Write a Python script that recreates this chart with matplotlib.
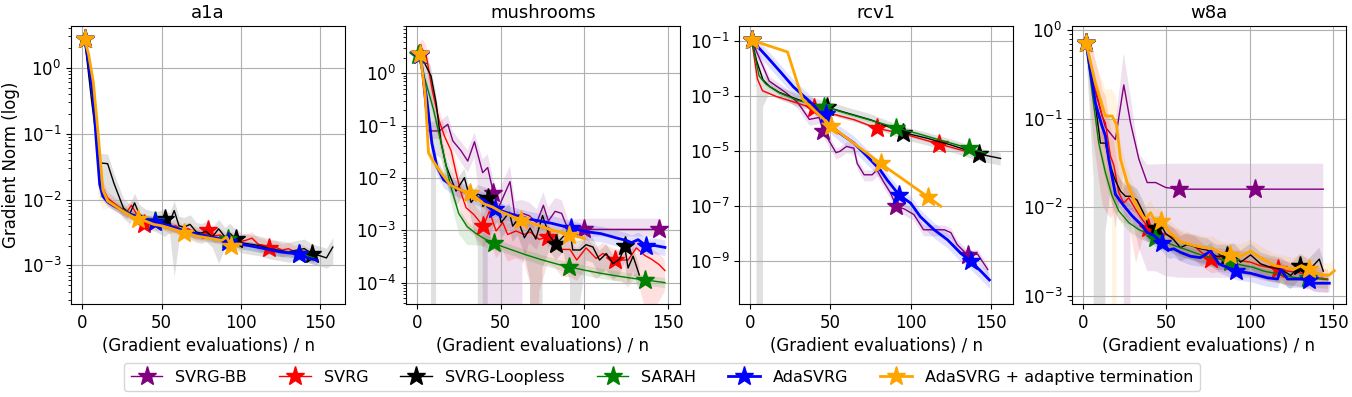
import numpy as np
import matplotlib
matplotlib.use("Agg")
import matplotlib.pyplot as plt
from matplotlib.lines import Line2D

methods = ["SVRG-BB", "SVRG", "SVRG-Loopless", "SARAH", "AdaSVRG",
           "AdaSVRG + adaptive termination"]
colors = ["purple", "red", "black", "green", "blue", "orange"]
widths = [1, 1, 1, 1, 2, 2]
titles = ["a1a", "mushrooms", "rcv1", "w8a"]
xticks = [0, 50, 100, 150]

# ---------------- a1a ----------------
a1a_svrg_x = [1.5, 4, 7, 10, 13, 16, 20, 24, 28, 31, 35, 39, 43, 47, 51, 55, 59, 63, 67, 71, 75, 79, 83, 87, 91,
              95, 99, 103, 107, 111, 115, 118, 122, 126, 130, 134, 138, 142, 146]
a1a_svrg_y = [2.7, 1.3, 0.4, 0.06, 0.015, 0.0105, 0.0088, 0.0074, 0.0064, 0.0082, 0.0056, 0.0043, 0.0047, 0.0042,
              0.0044, 0.0038, 0.0040, 0.0034, 0.0036, 0.0031, 0.0030, 0.0034, 0.0028, 0.0029, 0.0025, 0.0026,
              0.0023, 0.0024, 0.0026, 0.0021, 0.0020, 0.00187, 0.0019, 0.0017, 0.0018, 0.0016, 0.0017, 0.0015, 0.0014]
a1a_svrg_mk = [1.5, 39, 79, 118]

a1a_loop_x = [1.5, 6, 11, 16, 20, 26, 30, 33, 36, 40, 46, 52, 55, 58, 61, 64, 68, 72, 75, 78, 82, 86, 90, 93, 97,
              101, 106, 112, 118, 124, 130, 135, 140, 145, 150, 154, 158]
a1a_loop_y = [2.7, 0.3, 0.036, 0.035, 0.0176, 0.0074, 0.0061, 0.0089, 0.006, 0.0051, 0.0047, 0.0050, 0.0045,
              0.0068, 0.0040, 0.0038, 0.0042, 0.0032, 0.0031, 0.0033, 0.0027, 0.0036, 0.0027, 0.0031, 0.0025,
              0.0022, 0.0021, 0.0020, 0.0018, 0.0017, 0.0016, 0.0017, 0.0018, 0.0015, 0.0014, 0.0013, 0.0019]
a1a_loop_mk = [1.5, 52, 97, 145]
a1a_loop_dn = [0.05, 0.3, 0.7, 0.7, 0.5, 0.3, 0.3, 0.35, 0.3, 0.3, 0.3, 0.45, 0.3, 0.94, 0.4, 0.3, 0.4, 0.3, 0.3,
               0.3, 0.3, 0.7, 0.3, 0.4, 0.3, 0.3, 0.3, 0.3, 0.3, 0.3, 0.3, 0.3, 0.35, 0.3, 0.3, 0.3, 0.45]

a1a_sarah_x = [1.5, 4, 7, 9, 11, 13, 16, 20, 25, 30, 35, 40, 46, 50, 55, 60, 65, 70, 75, 80, 85, 92, 96, 100, 105,
               110, 115, 120, 125, 130, 137, 142, 146]
a1a_sarah_y = [2.7, 1.4, 0.45, 0.1, 0.03, 0.013, 0.0098, 0.0083, 0.0072, 0.0062, 0.0056, 0.0051, 0.0047, 0.0044,
               0.0040, 0.0037, 0.0034, 0.0031, 0.0030, 0.0028, 0.0026, 0.0025, 0.0023, 0.0021, 0.0020, 0.0019,
               0.0018, 0.0017, 0.0016, 0.0016, 0.0015, 0.0014, 0.0013]
a1a_sarah_mk = [1.5, 46, 92, 137]

a1a_ada_x = [1.5, 4, 7, 9, 11, 13, 16, 20, 25, 30, 35, 40, 46, 50, 55, 60, 65, 70, 75, 80, 85, 92, 96, 100, 105,
             110, 115, 120, 125, 130, 137, 142, 148]
a1a_ada_y = [2.7, 1.2, 0.33, 0.07, 0.017, 0.0112, 0.0092, 0.0080, 0.0069, 0.0060, 0.0055, 0.0050, 0.0046, 0.0043,
             0.0040, 0.0036, 0.0033, 0.0031, 0.0029, 0.0027, 0.0026, 0.0023, 0.0023, 0.0021, 0.0020, 0.0019,
             0.0018, 0.0017, 0.0016, 0.00155, 0.0015, 0.0013, 0.0012]
a1a_ada_mk = [1.5, 46, 92, 137]

a1a_term_x = [1.5, 4, 7, 10, 13, 16, 20, 25, 30, 35, 40, 45, 50, 55, 60, 64, 68, 72, 76, 80, 84, 88, 91, 94, 97, 100]
a1a_term_y = [2.7, 1.6, 0.6, 0.1, 0.014, 0.0095, 0.0082, 0.0068, 0.0058, 0.0050, 0.0047, 0.0042, 0.0040, 0.0037,
              0.0034, 0.0031, 0.0030, 0.0028, 0.0027, 0.0026, 0.0025, 0.0024, 0.0027, 0.0020, 0.0021, 0.0021]
a1a_term_mk = [1.5, 35, 64, 94]
a1a_term_dn = [0.1, 0.3, 0.6, 0.95, 0.5, 0.2, 0.15, 0.15, 0.15, 0.15, 0.15, 0.15, 0.15, 0.15, 0.15, 0.15, 0.15,
               0.15, 0.15, 0.15, 0.15, 0.15, 0.15, 0.15, 0.15, 0.15]

# ---------------- mushrooms ----------------
mush_bb_x = [2, 6.6, 13.5, 18.5, 21.5, 26.4, 30.4, 34.4, 39.3, 42.3, 45.7, 48.5, 55.6, 58.6, 63, 67, 71.5, 75.5,
             78.5, 82.5, 86.4, 90.4, 100, 110, 120, 130, 144.6]
mush_bb_y = [2.3, 0.079, 0.079, 0.106, 0.051, 0.033, 0.021, 0.049, 0.0126, 0.0158, 0.0052, 0.0026, 0.0085, 0.0018,
             0.0021, 0.0019, 0.0014, 0.0030, 0.0015, 0.0023, 0.0021, 0.0010, 0.00104, 0.00104, 0.00104, 0.00104,
             0.00104]
mush_bb_mk = [2, 45.7, 100, 144.6]
mush_bb_up = [0.2, 0.5, 0.5, 0.5, 0.5, 0.5, 0.6, 0.5, 0.8, 0.8, 0.8, 1.0, 1.0, 1.0, 0.8, 0.8, 0.8, 0.8, 0.8, 0.8,
              0.8, 0.6, 0.6, 0.6, 0.6, 0.6, 0.6]
mush_bb_dn = [0.1, 0.3, 0.3, 0.3, 0.3, 0.4, 0.4, 0.5, 1.0, 1.0, 1.0, 1.0, 1.0, 1.0, 1.0, 0.7, 0.7, 0.7, 0.7, 0.7,
              0.5, 0.3, 0.27, 0.27, 0.27, 0.27, 0.27]

mush_svrg_x = [1.5, 3.5, 5.6, 9.5, 13.5, 16.5, 20.5, 23.4, 26.4, 29.4, 34, 39.7, 43.3, 47.3, 51.3, 54.2, 59.2, 64,
               67.5, 73, 78, 82.5, 86.4, 91.4, 95.4, 101, 107, 111, 118, 122, 126, 131, 136, 140, 144.6, 148]
mush_svrg_y = [2.3, 2.8, 2.2, 0.43, 0.12, 0.063, 0.033, 0.0126, 0.0052, 0.0027, 0.0020, 0.0012, 0.0023, 0.00097,
               0.0014, 0.00083, 0.00097, 0.00083, 0.00093, 0.00067, 0.00074, 0.00065, 0.00043, 0.00043, 0.00027,
               0.00046, 0.00029, 0.00036, 0.00027, 0.00027, 0.00027, 0.00046, 0.00033, 0.00028, 0.00022, 0.00017]
mush_svrg_mk = [1.5, 39.7, 78, 118]
mush_svrg_dn = [0.1, 0.4, 0.4, 0.5, 0.5, 0.5, 0.5, 0.6, 0.6, 0.6, 0.6, 0.6, 0.7, 0.7, 0.7, 0.7, 0.7, 0.7, 1.0, 1.0,
                0.7, 0.7, 0.7, 0.7, 0.6, 0.6, 0.6, 0.6, 0.6, 0.6, 0.7, 0.7, 1.0, 1.0, 0.8, 0.6]

mush_loop_x = [2, 8.5, 11.5, 14.5, 17.5, 23.4, 28.4, 32.4, 36.4, 42.3, 45.3, 48.3, 50.3, 55.2, 57.2, 60.2, 64.2,
               67.6, 71, 75, 79, 83, 87.4, 91.4, 93, 97.4, 101, 105, 109, 113, 117, 121, 124, 126, 129, 132.7]
mush_loop_y = [2.3, 0.89, 0.275, 0.047, 0.017, 0.0056, 0.0101, 0.0034, 0.0049, 0.0042, 0.0022, 0.0029, 0.0014,
               0.0022, 0.0012, 0.0016, 0.00072, 0.0011, 0.00068, 0.0019, 0.0008, 0.00054, 0.00076, 0.0010, 0.00042,
               0.00042, 0.00053, 0.00048, 0.00027, 0.00036, 0.00023, 0.00028, 0.00049, 0.00019, 0.00032, 0.00014]
mush_loop_mk = [2, 42.3, 83, 124]
mush_loop_dn = [0.1, 1.0, 1.0, 0.5, 0.5, 0.5, 0.5, 0.5, 1.0, 1.0, 0.5, 0.5, 0.5, 0.5, 0.5, 0.5, 0.5, 1.0, 1.0, 1.0,
                0.5, 0.5, 0.5, 1.0, 1.0, 1.0, 0.5, 0.5, 0.5, 0.5, 0.5, 0.5, 0.5, 0.5, 0.5, 0.5]

mush_sarah_x = [0.5, 5, 10, 15, 20, 25, 30, 35, 40, 46, 55, 65, 75, 85, 91, 100, 110, 120, 130, 136, 142, 148]
mush_sarah_y = [2.24, 0.75, 0.2, 0.04, 0.0074, 0.0021, 0.00118, 0.00088, 0.0007, 0.00056, 0.00044, 0.00034,
                0.00027, 0.00022, 0.0002, 0.000173, 0.00015, 0.000133, 0.000119, 0.000112, 0.000106, 0.0001]
mush_sarah_mk = [0.5, 46, 91, 136]
mush_sarah_dn = [0.1, 0.2, 0.3, 0.4, 0.5, 0.6, 0.55, 0.4, 0.3, 0.25, 0.2, 0.2, 0.2, 0.2, 0.2, 0.2, 0.2, 0.2, 0.2,
                 0.2, 0.2, 0.2]

mush_ada_x = [2, 6, 9, 12, 16, 22, 30, 40, 46.7, 55, 62, 70, 80, 92, 100, 110, 120, 125, 128, 132, 137, 142, 148]
mush_ada_y = [2.24, 0.31, 0.046, 0.0165, 0.0092, 0.0068, 0.0051, 0.0038, 0.0026, 0.0021, 0.0018, 0.00157, 0.00137,
              0.0011, 0.00095, 0.00086, 0.0007, 0.00064, 0.00058, 0.00066, 0.0005, 0.00051, 0.00047]
mush_ada_mk = [2, 46.7, 92, 137]

mush_term_x = [2, 5, 7, 10, 14, 20, 26, 32, 36, 40, 45, 50, 55, 62, 66, 70, 75, 80, 86, 91, 96, 100]
mush_term_y = [2.34, 0.41, 0.030, 0.0205, 0.0132, 0.0073, 0.0059, 0.0051, 0.0041, 0.0032, 0.0028, 0.00227,
               0.00196, 0.00157, 0.00146, 0.00132, 0.00117, 0.00101, 0.00092, 0.00081, 0.00076, 0.0007]
mush_term_mk = [2, 32, 62, 91]

# ---------------- rcv1 ----------------
rcv_bb_x = [1, 11.9, 22.3, 29.6, 36.9, 43, 45.6, 53.5, 56, 60, 64.6, 66.7, 71, 76, 79, 83, 87.5, 91, 96, 102, 108,
            114.6, 121, 125, 129, 135.4, 141.7, 148]
rcv_bb_y = [0.11, 0.0036, 0.00135, 6.0e-4, 1.45e-4, 1.7e-4, 5.5e-5, 8.9e-6, 1.0e-5, 1.5e-5, 1.3e-5, 3.6e-6, 1.4e-6,
            1.4e-6, 2.1e-6, 8e-7, 3e-7, 1.0e-7, 8e-8, 5e-8, 1.4e-8, 1.4e-8, 1.4e-8, 1.1e-8, 4e-9, 1.7e-9, 1.8e-9,
            5e-10]
rcv_bb_mk = [1, 45.6, 91, 135.4]

rcv_svrg_x = [1, 4.6, 7.7, 16, 28.5, 39.6, 55, 65, 78.75, 95, 105, 117.7, 130, 142]
rcv_svrg_y = [0.11, 0.0042, 0.0016, 0.001, 5.9e-4, 3.6e-4, 2.0e-4, 1.4e-4, 6.9e-5, 4.4e-5, 3.0e-5, 1.85e-5,
              1.17e-5, 7.4e-6]
rcv_svrg_mk = [1, 39.6, 78.75, 117.7]

rcv_loop_x = [1, 4, 8, 12, 18, 30, 40, 48, 60, 75, 95.4, 110, 125, 142.7, 156]
rcv_loop_y = [0.11, 0.02, 0.004, 0.0023, 0.0014, 7.5e-4, 5.2e-4, 4.0e-4, 2.5e-4, 1.4e-4, 4.8e-5, 3.0e-5, 1.7e-5,
              7.9e-6, 5.5e-6]
rcv_loop_mk = [1, 48, 95.4, 142.7]
rcv_loop_dn = [0.1, 1.0, 1.0, 0.45, 0.45, 0.45, 0.45, 0.45, 0.45, 0.45, 0.45, 0.45, 0.45, 0.45, 0.45]

rcv_sarah_x = [1, 5.6, 9.8, 18, 30, 40, 46, 60, 75, 91, 105, 120, 136, 147]
rcv_sarah_y = [0.11, 0.0055, 0.0028, 0.00135, 7e-4, 5.0e-4, 4.2e-4, 2.4e-4, 1.35e-4, 7.2e-5, 4.3e-5, 2.4e-5,
               1.3e-5, 8.5e-6]
rcv_sarah_mk = [1, 46, 91, 136]

rcv_ada_x = [1, 10.4, 18.75, 27, 35.4, 40, 44, 47, 51, 56, 64.6, 73, 81, 85.4, 92.7, 100, 106, 114.6, 123, 131,
             137.5, 144, 149]
rcv_ada_y = [0.11, 0.028, 0.0079, 0.0022, 8e-4, 4.5e-4, 2.2e-4, 2.3e-4, 8e-5, 4.5e-5, 2.0e-5, 6.5e-6, 2.1e-6,
             9e-7, 2.6e-7, 1.3e-7, 4.2e-8, 1.4e-8, 6e-9, 2e-9, 1e-9, 4.2e-10, 2.1e-10]
rcv_ada_mk = [1, 47, 92.7, 137.5]

rcv_term_x = [1, 23.3, 32.7, 50.4, 81.25, 110.8, 118.75]
rcv_term_y = [0.11, 0.041, 7.8e-4, 8.3e-5, 3.6e-6, 2.2e-7, 1.0e-7]
rcv_term_mk = [1, 50.4, 81.25, 110.8]

# ---------------- w8a ----------------
w8a_bb_x = [2, 7.6, 13.6, 19.6, 24.6, 28.6, 33.6, 38.6, 43.7, 49.7, 57.7, 70, 85, 103, 120, 144]
w8a_bb_y = [0.71, 0.2, 0.08, 0.058, 0.24, 0.09, 0.035, 0.019, 0.019, 0.0167, 0.016, 0.016, 0.016, 0.016, 0.016,
            0.016]
w8a_bb_mk = [2, 57.7, 103]
w8a_bb_up = [0.2, 0.5, 0.5, 0.5, 1.3, 1.0, 0.15, 0.6, 0.6, 0.85, 0.94, 0.94, 0.94, 0.94, 0.94, 0.94]
w8a_bb_dn = [0.1, 0.5, 0.5, 0.9, 1.0, 1.0, 0.97, 0.95, 0.94, 0.93, 0.925, 0.925, 0.925, 0.925, 0.925, 0.925]

w8a_svrg_x = [2, 6, 11.6, 13.6, 16.6, 18.6, 21.6, 24.6, 27.6, 31.6, 35.6, 39.2, 44.6, 48.5, 52.5, 56.5, 60.5,
              66.5, 71, 77, 82, 88, 94, 100.5, 106, 111, 117, 123, 128.6, 135, 141, 146.6]
w8a_svrg_y = [0.71, 0.3, 0.107, 0.09, 0.038, 0.03, 0.0146, 0.0112, 0.0128, 0.0095, 0.0073, 0.0059, 0.0058, 0.0050,
              0.0047, 0.0044, 0.0039, 0.0037, 0.0031, 0.0026, 0.0027, 0.0026, 0.0025, 0.0024, 0.0022, 0.0021,
              0.0020, 0.0019, 0.00185, 0.0017, 0.0016, 0.00155]
w8a_svrg_mk = [2, 39.2, 77, 117]
w8a_svrg_up = [0.2, 1.0, 1.0, 1.0, 1.0, 0.8, 0.6, 0.5, 0.5, 0.5, 0.4, 0.3, 0.3, 0.3, 0.3, 0.3, 0.3, 0.3, 0.3, 0.3,
               0.3, 0.3, 0.3, 0.3, 0.3, 0.3, 0.3, 0.3, 0.3, 0.3, 0.3, 0.3]
w8a_svrg_dn = [0.1, 0.8, 0.9, 0.985, 0.8, 0.7, 0.5, 0.4, 0.5, 0.75, 0.4, 0.3, 0.3, 0.3, 0.3, 0.3, 0.3, 0.3, 0.3,
               0.3, 0.3, 0.3, 0.3, 0.3, 0.3, 0.3, 0.3, 0.3, 0.3, 0.3, 0.3, 0.3]

w8a_loop_x = [2, 6.6, 10.6, 13.6, 16.6, 19.6, 22.6, 25.6, 28.6, 32.4, 36.4, 39.5, 44, 47.5, 49.5, 54.5, 58.5, 62.5,
              66.5, 70.5, 74.5, 80, 86.5, 90.5, 94.5, 100.5, 106.5, 112.5, 118.5, 124.5, 130, 135, 141.6, 144]
w8a_loop_y = [0.71, 0.2, 0.053, 0.053, 0.029, 0.02, 0.0152, 0.0133, 0.0133, 0.0121, 0.0086, 0.006, 0.0058, 0.006,
              0.0051, 0.0043, 0.0035, 0.0038, 0.0036, 0.0034, 0.0033, 0.0028, 0.0028, 0.0029, 0.0024, 0.0029,
              0.0023, 0.0021, 0.0020, 0.0017, 0.0022, 0.0019, 0.0026, 0.0019]
w8a_loop_mk = [2, 44, 86.5, 130]
w8a_loop_dn = [0.1, 1.0, 1.0, 1.0, 0.5, 0.4, 0.3, 0.3, 0.3, 0.3, 0.3, 0.3, 0.3, 0.3, 0.3, 0.3, 0.3, 0.3, 0.3, 0.3,
               0.3, 0.3, 0.3, 0.3, 0.3, 0.3, 0.3, 0.3, 0.3, 0.3, 0.3, 0.3, 0.3, 0.3]

w8a_sarah_x = [2, 5.6, 9.6, 13.6, 17.6, 21.6, 27.6, 33.6, 39.6, 43.3, 50, 56.5, 62.5, 68.5, 76, 82, 88, 96.5, 102,
               108.5, 115, 121, 128, 134.6, 140, 146.6]
w8a_sarah_y = [0.71, 0.2, 0.053, 0.0246, 0.0134, 0.0091, 0.0067, 0.0056, 0.0050, 0.0045, 0.0040, 0.0036, 0.0033,
               0.0030, 0.0027, 0.0026, 0.0024, 0.0022, 0.0021, 0.0019, 0.0018, 0.0017, 0.0016, 0.00158, 0.00156,
               0.00152]
w8a_sarah_mk = [2, 43.3, 88, 134.6]

w8a_ada_x = [2, 7.6, 11.6, 13.6, 15.6, 19.6, 24.6, 29.6, 35.6, 38.6, 42.6, 47.3, 51.5, 54.5, 58.5, 64.5, 70.5,
             76.5, 81.5, 86.5, 92, 100.5, 110.5, 116.6, 118.6, 122.6, 128.6, 135.6, 138.6, 147.6]
w8a_ada_y = [0.71, 0.15, 0.082, 0.064, 0.035, 0.014, 0.0104, 0.0080, 0.0062, 0.0052, 0.0048, 0.0040, 0.0033,
             0.0034, 0.0031, 0.0028, 0.0027, 0.0032, 0.0023, 0.0021, 0.0019, 0.0018, 0.0016, 0.00155, 0.0020,
             0.00155, 0.00155, 0.00153, 0.00139, 0.00139]
w8a_ada_mk = [2, 47.3, 92, 135.6]

w8a_term_x = [2, 7.6, 13.6, 17.6, 20.2, 22.6, 26.6, 30.6, 34.6, 37.6, 40.6, 43.6, 46.9, 52.5, 58.5, 66.5, 72.5,
              78.5, 83, 88.1, 94.5, 100.5, 106.5, 114.6, 120.6, 126.6, 131, 135.6, 142.6, 147.6, 150.6]
w8a_term_y = [0.71, 0.25, 0.107, 0.107, 0.086, 0.035, 0.019, 0.0122, 0.0086, 0.0073, 0.0087, 0.0068, 0.0070,
              0.0051, 0.0041, 0.0037, 0.0035, 0.0034, 0.0030, 0.0029, 0.0028, 0.0032, 0.0027, 0.0022, 0.0021,
              0.0020, 0.0022, 0.0020, 0.00172, 0.00172, 0.00192]
w8a_term_mk = [2, 46.9, 88.1, 135.6]
w8a_term_up = [0.2, 0.8, 1.0, 1.0, 1.0, 0.6, 0.5, 0.4, 0.4, 0.4, 0.4, 0.4, 0.4, 0.35, 0.35, 0.35, 0.35, 0.35,
               0.35, 0.35, 0.35, 0.35, 0.35, 0.35, 0.35, 0.35, 0.35, 0.35, 0.35, 0.35, 0.35]
w8a_term_dn = [0.1, 0.5, 0.8, 1.0, 1.0, 0.6, 0.4, 0.3, 0.3, 0.3, 0.3, 0.3, 0.3, 0.3, 0.3, 0.3, 0.3, 0.3, 0.3,
               0.3, 0.3, 0.3, 0.3, 0.3, 0.3, 0.3, 0.3, 0.3, 0.3, 0.3, 0.3]

# series: (x, y, marker x positions, relative upper band, relative lower band)
data = {
    "a1a": {
        "SVRG": (a1a_svrg_x, a1a_svrg_y, a1a_svrg_mk, 0.25, 0.2),
        "SVRG-Loopless": (a1a_loop_x, a1a_loop_y, a1a_loop_mk, 0.4, a1a_loop_dn),
        "SARAH": (a1a_sarah_x, a1a_sarah_y, a1a_sarah_mk, 0.15, 0.15),
        "AdaSVRG": (a1a_ada_x, a1a_ada_y, a1a_ada_mk, 0.15, 0.15),
        "AdaSVRG + adaptive termination": (a1a_term_x, a1a_term_y, a1a_term_mk, 0.2, a1a_term_dn),
    },
    "mushrooms": {
        "SVRG-BB": (mush_bb_x, mush_bb_y, mush_bb_mk, mush_bb_up, mush_bb_dn),
        "SVRG": (mush_svrg_x, mush_svrg_y, mush_svrg_mk, 0.6, mush_svrg_dn),
        "SVRG-Loopless": (mush_loop_x, mush_loop_y, mush_loop_mk, 0.5, mush_loop_dn),
        "SARAH": (mush_sarah_x, mush_sarah_y, mush_sarah_mk, 0.25, mush_sarah_dn),
        "AdaSVRG": (mush_ada_x, mush_ada_y, mush_ada_mk, 0.4, 0.3),
        "AdaSVRG + adaptive termination": (mush_term_x, mush_term_y, mush_term_mk, 0.25, 0.2),
    },
    "rcv1": {
        "SVRG-BB": (rcv_bb_x, rcv_bb_y, rcv_bb_mk, 0.5, 0.4),
        "SVRG": (rcv_svrg_x, rcv_svrg_y, rcv_svrg_mk, 0.1, 0.1),
        "SVRG-Loopless": (rcv_loop_x, rcv_loop_y, rcv_loop_mk, 0.6, rcv_loop_dn),
        "SARAH": (rcv_sarah_x, rcv_sarah_y, rcv_sarah_mk, 0.15, 0.15),
        "AdaSVRG": (rcv_ada_x, rcv_ada_y, rcv_ada_mk, 0.8, 0.5),
        "AdaSVRG + adaptive termination": (rcv_term_x, rcv_term_y, rcv_term_mk, 0.1, 0.1),
    },
    "w8a": {
        "SVRG-BB": (w8a_bb_x, w8a_bb_y, w8a_bb_mk, w8a_bb_up, w8a_bb_dn),
        "SVRG": (w8a_svrg_x, w8a_svrg_y, w8a_svrg_mk, w8a_svrg_up, w8a_svrg_dn),
        "SVRG-Loopless": (w8a_loop_x, w8a_loop_y, w8a_loop_mk, 0.35, w8a_loop_dn),
        "SARAH": (w8a_sarah_x, w8a_sarah_y, w8a_sarah_mk, 0.2, 0.2),
        "AdaSVRG": (w8a_ada_x, w8a_ada_y, w8a_ada_mk, 0.25, 0.2),
        "AdaSVRG + adaptive termination": (w8a_term_x, w8a_term_y, w8a_term_mk, w8a_term_up, w8a_term_dn),
    },
}

ylims = {"a1a": (2.6e-4, 4.3), "mushrooms": (3.9e-5, 8.0), "rcv1": (2.8e-11, 0.36), "w8a": (8.1e-4, 1.11)}
xlims = {"a1a": (-7.1, 165.7), "mushrooms": (-6.6, 156.8), "rcv1": (-6.9, 163.7), "w8a": (-6.4, 157.6)}


def band_polygon(x, y, up, dn):
    """Band mean*(1+up) .. mean*(1-dn); where the lower bound is not positive
    (dn >= 1) the band drops straight to the bottom of the log axis."""
    n = len(y)
    deep = dn >= 1
    lo_soft = y * (1 - np.minimum(dn, 0.9))
    hi = y * (1 + up)
    tiny = 1e-300
    xs, ls, hs = [], [], []
    for i in range(n):
        prev_deep = i > 0 and deep[i - 1]
        next_deep = i < n - 1 and deep[i + 1]
        if deep[i] and (prev_deep or next_deep):
            if not prev_deep:
                xs.append(x[i]); ls.append(lo_soft[i]); hs.append(hi[i])
            xs.append(x[i]); ls.append(tiny); hs.append(hi[i])
            if not next_deep:
                xs.append(x[i]); ls.append(lo_soft[i]); hs.append(hi[i])
        else:
            xs.append(x[i]); ls.append(lo_soft[i]); hs.append(hi[i])
    return np.array(xs), np.array(ls), np.array(hs)


W, H = 1352, 397
fig = plt.figure(figsize=(W / 100, H / 100), dpi=100)
lefts = [71, 405.7, 739, 1072]
for i, name in enumerate(titles):
    ax = fig.add_axes([lefts[i] / W, 93 / H, 274 / W, 278 / H])
    for m, c, lw in zip(methods, colors, widths):
        if m not in data[name]:
            continue
        x, y, mk, up, dn = data[name][m]
        x = np.asarray(x, float)
        y = np.asarray(y, float)
        n = len(y)
        up = np.resize(np.asarray(up, float), n)
        dn = np.resize(np.asarray(dn, float), n)
        bx, blo, bhi = band_polygon(x, y, up, dn)
        ax.fill_between(bx, blo, bhi, color=c, alpha=0.12, lw=0)
        idx = sorted(set(int(np.argmin(np.abs(x - v))) for v in mk))
        ax.plot(x, y, color=c, lw=lw, marker="*", ms=14, markevery=idx)
    ax.set_yscale("log")
    ax.set_ylim(*ylims[name])
    ax.set_xlim(*xlims[name])
    ax.set_xticks(xticks)
    if name == "rcv1":
        ax.set_yticks([1e-1, 1e-3, 1e-5, 1e-7, 1e-9])
    ax.grid(True, color="#b0b0b0", lw=0.8)
    ax.tick_params(labelsize=12)
    ax.set_title(name, fontsize=13)
    ax.set_xlabel("(Gradient evaluations) / n", fontsize=12)
    if i == 0:
        ax.set_ylabel("Gradient Norm (log)", fontsize=12, labelpad=1)

handles = [Line2D([], [], color=c, lw=lw, marker="*", ms=14) for c, lw in zip(colors, widths)]
fig.legend(handles, methods, loc="lower center", bbox_to_anchor=(662 / W, -0.005), ncol=6,
           fontsize=11.5, frameon=True)
fig.savefig("out.png", dpi=100)
